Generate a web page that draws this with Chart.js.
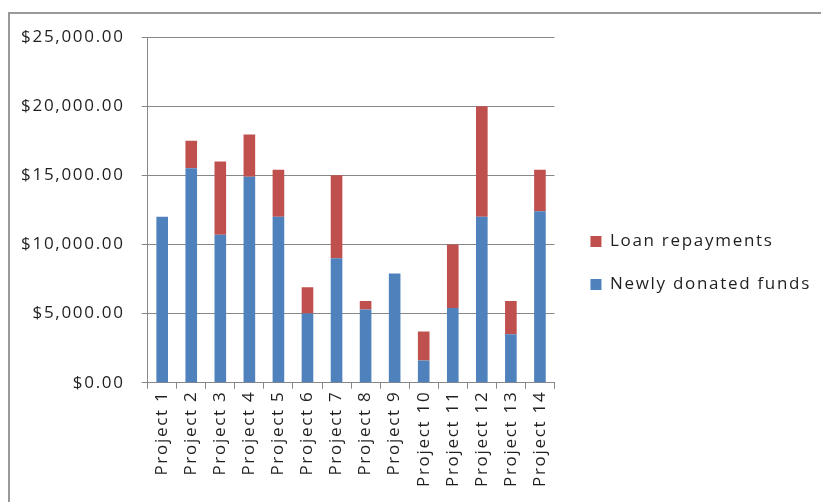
<!DOCTYPE html>
<html>
<head>
<meta charset="utf-8">
<script src="https://cdn.jsdelivr.net/npm/chart.js@4.4.1/dist/chart.umd.min.js"></script>
<style>
  html, body { margin: 0; padding: 0; background: #fff; }
  #wrap { position: relative; width: 821px; height: 502px; overflow: hidden; }
  #frame { position: absolute; left: 8px; top: 12px; width: 900px; height: 600px;
           border-left: 2px solid #999; border-top: 2px solid #999; }
  #box { position: absolute; left: 0; top: 0; width: 821px; height: 502px; }
</style>
</head>
<body>
<div id="wrap">
  <div id="frame"></div>
  <div id="box"><canvas id="chartProjects"></canvas></div>
</div>
<script>
// data
const projects = ["Project 1", "Project 2", "Project 3", "Project 4", "Project 5", "Project 6", "Project 7",
  "Project 8", "Project 9", "Project 10", "Project 11", "Project 12", "Project 13", "Project 14"];
const newlyDonated = [12000, 15500, 10700, 14900, 12000, 5000, 9000, 5300, 7900, 1600, 5400, 12000, 3500, 12400];
const loanRepayments = [0, 2000, 5300, 3050, 3400, 1900, 6000, 600, 0, 2100, 4600, 8000, 2400, 3000];
const yTicks = [0, 5000, 10000, 15000, 20000, 25000];

const gridGray = "#878787";
const txt = "#1f1f1f";
const fnt = { family: "'Open Sans'", size: 17 };

// the original text is wide, so space the letters out
// (canvas resize resets ctx state, so set it again before layout and draw)
const spacing = {
  id: "spacing",
  beforeLayout(c) { c.ctx.letterSpacing = "1.7px"; },
  beforeDraw(c) { c.ctx.letterSpacing = "1.7px"; }
};

function money(v) {
  return "$" + v.toLocaleString("en-US", { minimumFractionDigits: 2, maximumFractionDigits: 2 });
}

const chart = new Chart(document.getElementById("chartProjects"), {
  type: "bar",
  data: {
    labels: projects,
    datasets: [{
      label: "Newly donated funds",
      data: newlyDonated,
      backgroundColor: "#4f81bd",
      barPercentage: 0.4,
      categoryPercentage: 1
    }, {
      label: "Loan repayments",
      data: loanRepayments,
      backgroundColor: "#c0504d",
      barPercentage: 0.4,
      categoryPercentage: 1
    }]
  },
  plugins: [spacing],
  options: {
    responsive: true,
    maintainAspectRatio: false,
    animation: false,
    layout: { padding: { left: 13, top: 37, right: 0, bottom: 13 } },
    plugins: {
      tooltip: { enabled: false },
      legend: {
        position: "right",
        reverse: true,
        maxWidth: 300,
        labels: { color: txt, font: fnt, boxWidth: 11, boxHeight: 11, padding: 26 }
      }
    },
    scales: {
      x: {
        stacked: true,
        grid: { drawOnChartArea: false, color: gridGray, tickLength: 6 },
        border: { color: gridGray },
        ticks: { color: txt, font: fnt, minRotation: 90, maxRotation: 90, padding: 2 }
      },
      y: {
        stacked: true,
        min: 0,
        max: 25000,
        afterBuildTicks(axis) { axis.ticks = yTicks.map(v => ({ value: v })); },
        grid: { color: gridGray, tickLength: 6 },
        border: { color: gridGray },
        ticks: { color: txt, font: fnt, padding: 17, callback: v => money(v) }
      },
      // empty strip between the plot and the legend
      gap: {
        position: "right",
        grid: { display: false },
        border: { display: false },
        ticks: { display: false },
        afterFit(s) { s.width = 10; }
      }
    }
  }
});
</script>
</body>
</html>
